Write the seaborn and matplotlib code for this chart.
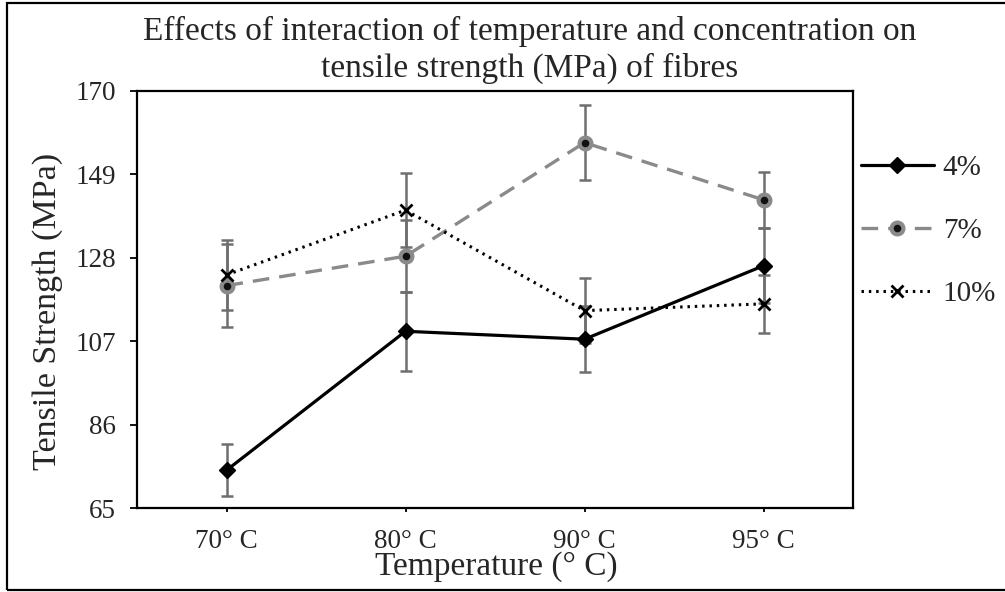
import matplotlib
matplotlib.use("Agg")
import matplotlib.pyplot as plt
import seaborn as sns
import pandas as pd
from matplotlib.patches import Rectangle

temperatures = ["70° C", "80° C", "90° C", "95° C"]
conc_labels = ["4%", "7%", "10%"]
strength_4 = [74.5, 109.5, 107.5, 126.0]
strength_7 = [121.0, 128.4, 157.0, 142.6]
strength_10 = [123.7, 140.0, 114.7, 116.4]
err_4 = [6.5, 10.0, 8.3, 9.5]
err_7 = [10.5, 9.1, 9.4, 7.1]
err_10 = [8.8, 9.3, 8.2, 7.3]
y_ticks = [65, 86, 107, 128, 149, 170]
title_lines = ["Effects of interaction of temperature and concentration on",
               "tensile strength (MPa) of fibres"]

sns.set_theme(style="white")
plt.rcParams["font.family"] = ["Liberation Serif", "DejaVu Serif"]

fig = plt.figure(figsize=(10.05, 5.92), dpi=100)
ax = fig.add_axes([137 / 1005, 1 - 508 / 592, (853 - 137) / 1005, (508 - 91) / 592])

series = [
    (conc_labels[0], strength_4, err_4,
     dict(color="black", lw=2.3, linestyle="-", marker="D", ms=8.5,
          markerfacecolor="black", markeredgecolor="black", mew=1)),
    (conc_labels[1], strength_7, err_7,
     dict(color="#8a8a8a", lw=2.4, dashes=(5, 3), marker="o", ms=8.5,
          markerfacecolor="#111111", markeredgecolor="#8a8a8a", mew=3)),
    (conc_labels[2], strength_10, err_10,
     dict(color="black", lw=2.2, dashes=(0.8, 1.6), marker="x", ms=9,
          markeredgecolor="black", mew=2)),
]

for label, vals, errs, style in series:
    df = pd.DataFrame({"Temperature": temperatures, "Strength": vals})
    ax.errorbar(temperatures, vals, yerr=errs, fmt="none", ecolor="#6e6e6e",
                elinewidth=1.8, capsize=4.5, capthick=1.8, zorder=2)
    sns.lineplot(data=df, x="Temperature", y="Strength", ax=ax, label=label,
                 sort=False, zorder=3, **style)

ax.set_xlim(-0.5, 3.5)
ax.set_ylim(65, 170)
ax.set_yticks(y_ticks)
ax.set_yticklabels([str(v) for v in y_ticks])
ax.tick_params(axis="y", direction="out", length=5, width=1.3, labelsize=19.5, pad=10, color="black", left=True)
ax.tick_params(axis="x", direction="out", length=3, width=1.3, labelsize=19.5, pad=12, color="black", bottom=True)
for s in ax.spines.values():
    s.set_color("black")
    s.set_linewidth(1.6)
    s.set_visible(True)

ax.set_xlabel("")
ax.set_ylabel("")
fig.text(496 / 1005, 1 - 567 / 592, "Temperature (° C)", ha="center", va="center", fontsize=24)
fig.text(48 / 1005, 1 - 311 / 592, "Tensile Strength (MPa)", ha="center", va="center",
         rotation=90, fontsize=24.5)

fig.text(530 / 1005, 1 - 40 / 592, title_lines[0], ha="center", va="baseline", fontsize=24)
fig.text(530 / 1005, 1 - 77 / 592, title_lines[1], ha="center", va="baseline", fontsize=24)

leg = ax.legend(loc="center left", bbox_to_anchor=(861 / 1005, 1 - 231 / 592),
                bbox_transform=fig.transFigure, frameon=False, fontsize=21,
                handlelength=2.5, handletextpad=0.3, labelspacing=1.25,
                borderpad=0, borderaxespad=0)

fig.add_artist(Rectangle((7 / 1005, 2 / 592), 1.2, 1 - 5 / 592, transform=fig.transFigure,
                         fill=False, edgecolor="black", lw=1.6, clip_on=False))

fig.savefig("out.png", dpi=100)
